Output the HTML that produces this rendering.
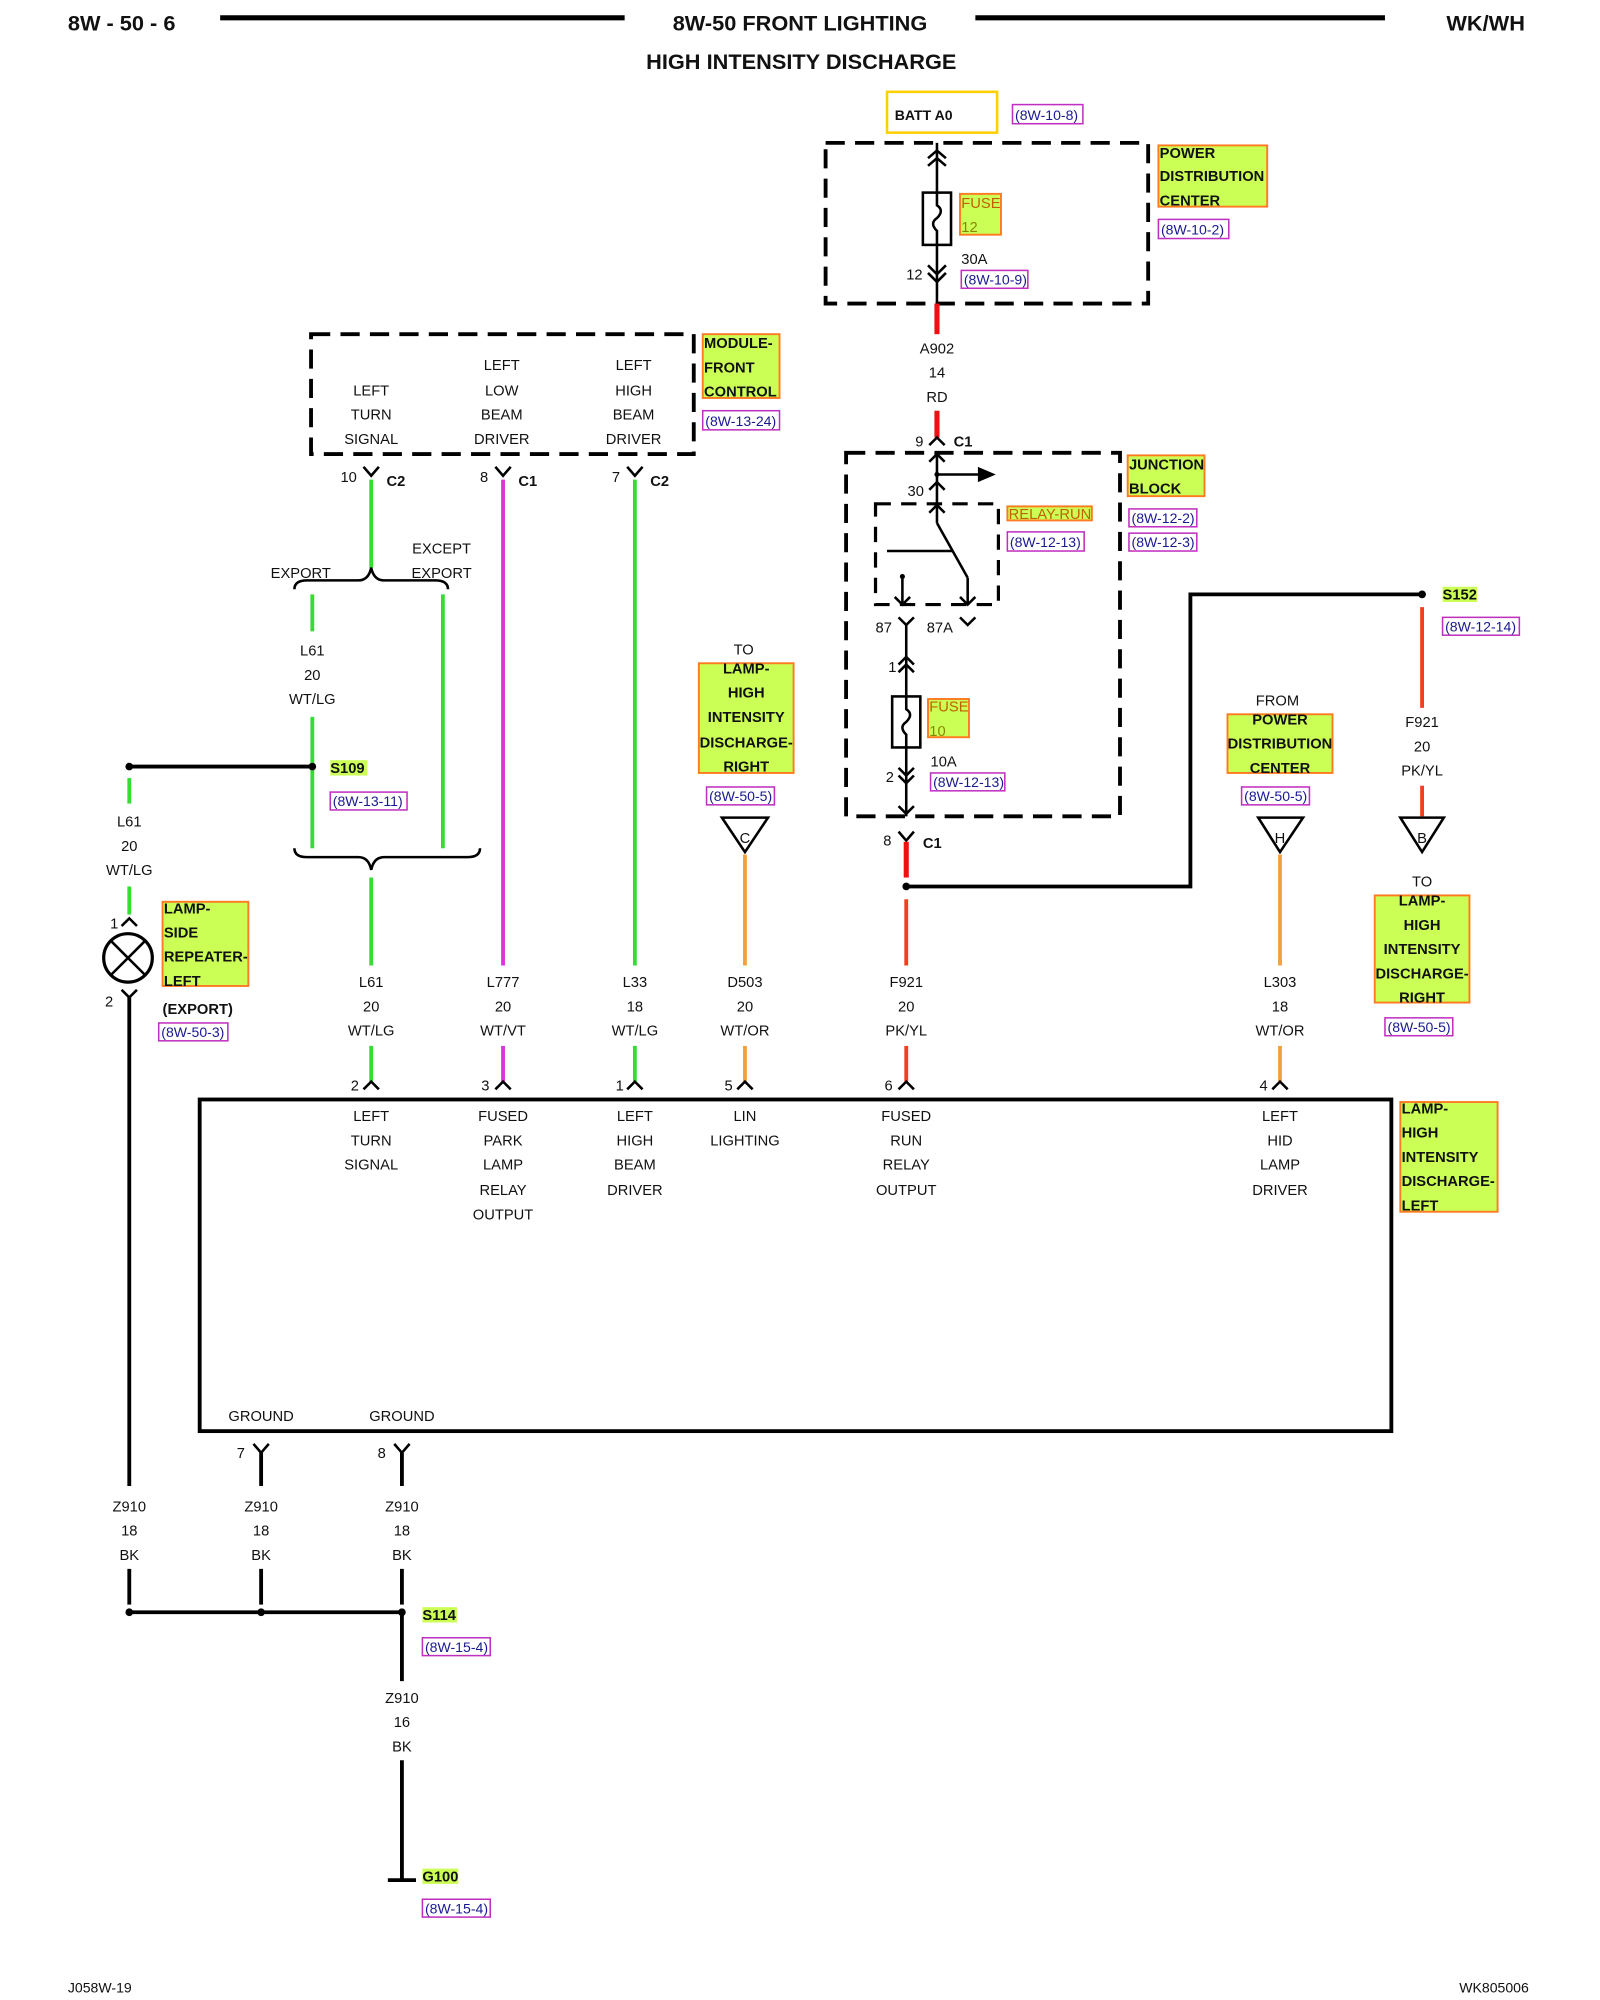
<!DOCTYPE html>
<html><head><meta charset="utf-8"><style>
html,body{margin:0;padding:0;background:#fff;}
svg{display:block;}
text{font-family:"Liberation Sans",sans-serif;font-size:11.5px;fill:#111;}
.b{font-weight:bold;}
.c{text-anchor:middle;}
.ref{fill:none;stroke:#c030c0;stroke-width:1.2;}
.reft{fill:#1a1a90;font-size:11px;}
.lab{fill:#ccff55;stroke:#ff7a20;stroke-width:1.5;}
.labt{font-weight:bold;font-size:11.5px;}
.k{stroke:#000;fill:none;stroke-width:3;}
.k2{stroke:#000;fill:none;stroke-width:2;}
.d{stroke:#000;fill:none;stroke-width:3;stroke-dasharray:15 8;}
.g{stroke:#33dd33;stroke-width:3;}
.m{stroke:#dd33dd;stroke-width:3;}
.r{stroke:#ee1111;stroke-width:4;}
.o{stroke:#f2a040;stroke-width:3;}
</style></head><body>
<svg width="1600" height="2000" viewBox="0 0 1250 1568" preserveAspectRatio="none" xmlns="http://www.w3.org/2000/svg">
<!-- header -->
<text x="53" y="24" class="b" style="font-size:17px">8W - 50 - 6</text>
<line x1="172" y1="14" x2="488" y2="14" stroke="#000" stroke-width="4"/>
<text x="625" y="24" class="b c" style="font-size:17px">8W-50 FRONT LIGHTING</text>
<line x1="762" y1="14" x2="1082" y2="14" stroke="#000" stroke-width="4"/>
<text x="1130" y="24" class="b" style="font-size:17px">WK/WH</text>
<text x="626" y="54" class="b c" style="font-size:17px">HIGH INTENSITY DISCHARGE</text>

<!-- BATT -->
<rect x="693" y="72" width="86" height="32" fill="none" stroke="#ffd000" stroke-width="2"/>
<text x="699" y="94" class="b" style="font-size:11px">BATT A0</text>
<rect class="ref" x="791" y="82" width="55" height="15"/><text class="reft" x="793" y="94">(8W-10-8)</text>

<!-- PDC -->
<rect class="d" x="645" y="112" width="252" height="126"/>
<line class="k2" x1="732" y1="112" x2="732" y2="238"/>
<polyline class="k2" points="725,124 732,118 739,124"/><polyline class="k2" points="725,130 732,124 739,130"/>
<rect x="721" y="151" width="22" height="41" fill="#fff" stroke="#000" stroke-width="2"/>
<path d="M732 151 v10 q6 4 0 10 q-6 4 0 10 v11" class="k2"/>
<polyline class="k2" points="725,208 732,215 739,208"/><polyline class="k2" points="725,214 732,221 739,214"/>
<rect class="lab" x="750" y="152" width="32" height="32"/><text x="751" y="163" style="fill:#c06000">FUSE</text><text x="751" y="182" style="fill:#888800">12</text>
<text x="708" y="219">12</text><text x="751" y="207">30A</text>
<rect class="ref" x="751" y="212" width="52" height="14"/><text class="reft" x="753" y="223">(8W-10-9)</text>
<rect class="lab" x="905" y="114" width="85" height="48"/>
<text class="labt" x="906" y="124">POWER</text><text class="labt" x="906" y="142">DISTRIBUTION</text><text class="labt" x="906" y="161">CENTER</text>
<rect class="ref" x="905" y="172" width="55" height="15"/><text class="reft" x="907" y="184">(8W-10-2)</text>

<line class="r" x1="732" y1="238" x2="732" y2="262"/>
<text x="732" y="277" class="c">A902</text><text x="732" y="296" class="c">14</text><text x="732" y="315" class="c">RD</text>
<line class="r" x1="732" y1="322" x2="732" y2="343"/>
<polyline class="k2" points="726,349 732,343 738,349"/><text x="715" y="350">9</text><text x="745" y="350" class="b">C1</text>

<!-- Junction block -->
<rect class="d" x="661" y="355" width="214" height="285"/>
<line class="k2" x1="732" y1="355" x2="732" y2="395"/>
<polyline class="k2" points="726,362 732,356 738,362"/>
<line class="k2" x1="732" y1="372" x2="765" y2="372"/><polygon points="764,366 778,372 764,378" fill="#000"/>
<circle cx="732" cy="372" r="2" fill="#000"/>
<polyline class="k2" points="726,384 732,378 738,384"/><text x="709" y="389">30</text>
<rect class="d" x="684" y="395" width="96" height="79" style="stroke-width:2.5;stroke-dasharray:12 8"/>
<polyline class="k2" points="726,402 732,396 738,402"/>
<line class="k2" x1="732" y1="396" x2="732" y2="410"/><line class="k2" x1="732" y1="410" x2="756" y2="453"/>
<line class="k2" x1="693" y1="432" x2="744" y2="432"/>
<line class="k2" x1="756" y1="453" x2="756" y2="474"/><polyline class="k2" points="750,468 756,474 762,468"/>
<line class="k2" x1="705" y1="452" x2="705" y2="474"/><polyline class="k2" points="699,468 705,474 711,468"/><circle cx="705" cy="452" r="2" fill="#000"/>
<polyline class="k2" points="702,484 708,490 714,484"/><text x="684" y="496">87</text><text x="724" y="496">87A</text>
<polyline class="k2" points="750,484 756,490 762,484"/>
<line class="k2" x1="708" y1="490" x2="708" y2="640"/>
<polyline class="k2" points="702,521 708,515 714,521"/><polyline class="k2" points="702,527 708,521 714,527"/><text x="694" y="527">1</text>
<rect x="697" y="546" width="22" height="40" fill="#fff" stroke="#000" stroke-width="2"/>
<path d="M708 546 v10 q6 4 0 10 q-6 4 0 10 v10" class="k2"/>
<rect class="lab" x="725" y="548" width="32" height="30"/><text x="726" y="558" style="fill:#c06000">FUSE</text><text x="726" y="577" style="fill:#888800">10</text>
<text x="727" y="601">10A</text>
<rect class="ref" x="727" y="606" width="58" height="14"/><text class="reft" x="729" y="617">(8W-12-13)</text>
<polyline class="k2" points="702,602 708,608 714,602"/><polyline class="k2" points="702,608 708,614 714,608"/><text x="692" y="613">2</text>
<polyline class="k2" points="702,632 708,638 714,632"/>
<rect class="lab" x="881" y="357" width="60" height="32"/><text class="labt" x="882" y="368">JUNCTION</text><text class="labt" x="882" y="387">BLOCK</text>
<rect class="ref" x="882" y="399" width="53" height="14"/><text class="reft" x="884" y="410">(8W-12-2)</text>
<rect class="ref" x="882" y="418" width="53" height="14"/><text class="reft" x="884" y="429">(8W-12-3)</text>
<rect class="lab" x="787" y="397" width="66" height="11"/><text x="788" y="407" style="fill:#c06000">RELAY-RUN</text>
<rect class="ref" x="787" y="417" width="60" height="15"/><text class="reft" x="789" y="429">(8W-12-13)</text>

<polyline class="k2" points="702,652 708,659 714,652"/><text x="690" y="663">8</text><text x="721" y="665" class="b">C1</text>
<line class="r" x1="708" y1="660" x2="708" y2="688"/>
<circle cx="708" cy="695" r="3" fill="#000"/>
<polyline class="k" points="708,695 930,695 930,466 1111,466"/>
<circle cx="1111" cy="466" r="3" fill="#000"/>
<rect x="1127" y="460" width="27" height="12" fill="#ccff55"/><text x="1127" y="470" class="b">S152</text>
<rect class="ref" x="1127" y="484" width="60" height="14"/><text class="reft" x="1129" y="495">(8W-12-14)</text>
<line class="r" x1="1111" y1="476" x2="1111" y2="555" style="stroke:#f04020;stroke-width:3"/>
<text x="1111" y="570" class="c">F921</text><text x="1111" y="589" class="c">20</text><text x="1111" y="608" class="c">PK/YL</text>
<line class="r" x1="1111" y1="616" x2="1111" y2="640" style="stroke:#f04020;stroke-width:3"/>
<polygon points="1094,641 1128,641 1111,668" fill="#fff" stroke="#000" stroke-width="2"/><text x="1111" y="661" class="c">B</text>
<text x="1111" y="695" class="c">TO</text>
<rect class="lab" x="1074" y="702" width="74" height="84"/>
<text class="labt c" x="1111" y="710">LAMP-</text><text class="labt c" x="1111" y="729">HIGH</text><text class="labt c" x="1111" y="748">INTENSITY</text><text class="labt c" x="1111" y="767">DISCHARGE-</text><text class="labt c" x="1111" y="786">RIGHT</text>
<rect class="ref" x="1082" y="798" width="53" height="14"/><text class="reft" x="1084" y="809">(8W-50-5)</text>

<!-- Module front control -->
<rect class="d" x="243" y="262" width="299" height="94"/>
<text x="290" y="310" class="c">LEFT</text><text x="290" y="329" class="c">TURN</text><text x="290" y="348" class="c">SIGNAL</text>
<text x="392" y="290" class="c">LEFT</text><text x="392" y="310" class="c">LOW</text><text x="392" y="329" class="c">BEAM</text><text x="392" y="348" class="c">DRIVER</text>
<text x="495" y="290" class="c">LEFT</text><text x="495" y="310" class="c">HIGH</text><text x="495" y="329" class="c">BEAM</text><text x="495" y="348" class="c">DRIVER</text>
<rect class="lab" x="549" y="262" width="60" height="50"/><text class="labt" x="550" y="273">MODULE-</text><text class="labt" x="550" y="292">FRONT</text><text class="labt" x="550" y="311">CONTROL</text>
<rect class="ref" x="549" y="322" width="60" height="15"/><text class="reft" x="551" y="334">(8W-13-24)</text>

<polyline class="k2" points="284,366 290,373 296,366"/><text x="266" y="378">10</text><text x="302" y="381" class="b">C2</text>
<polyline class="k2" points="387,366 393,373 399,366"/><text x="375" y="378">8</text><text x="405" y="381" class="b">C1</text>
<polyline class="k2" points="490,366 496,373 502,366"/><text x="478" y="378">7</text><text x="508" y="381" class="b">C2</text>
<line class="g" x1="290" y1="376" x2="290" y2="445"/>
<path d="M230 462 q0 -7 10 -7 h40 q8 0 10 -10 q2 10 10 10 h40 q10 0 10 7" class="k2"/>
<text x="235" y="453" class="c">EXPORT</text><text x="345" y="434" class="c">EXCEPT</text><text x="345" y="453" class="c">EXPORT</text>
<line class="g" x1="244" y1="466" x2="244" y2="495"/>
<text x="244" y="514" class="c">L61</text><text x="244" y="533" class="c">20</text><text x="244" y="552" class="c">WT/LG</text>
<line class="g" x1="244" y1="562" x2="244" y2="665"/>
<line class="g" x1="346" y1="466" x2="346" y2="665"/>
<circle cx="244" cy="601" r="3" fill="#000"/>
<line class="k" x1="101" y1="601" x2="244" y2="601"/><circle cx="101" cy="601" r="3" fill="#000"/>
<rect x="258" y="596" width="29" height="12" fill="#ccff55"/><text x="258" y="606" class="b">S109</text>
<rect class="ref" x="258" y="621" width="60" height="14"/><text class="reft" x="260" y="632">(8W-13-11)</text>
<path d="M230 665 q0 7 10 7 h40 q8 0 10 10 q2 -10 10 -10 h65 q10 0 10 -7" class="k2"/>
<line class="g" x1="290" y1="688" x2="290" y2="757"/>
<line class="m" x1="393" y1="376" x2="393" y2="757"/>
<line class="g" x1="496" y1="376" x2="496" y2="757"/>

<text x="581" y="513" class="c">TO</text>
<rect class="lab" x="546" y="520" width="74" height="86"/>
<text class="labt c" x="583" y="528">LAMP-</text><text class="labt c" x="583" y="547">HIGH</text><text class="labt c" x="583" y="566">INTENSITY</text><text class="labt c" x="583" y="586">DISCHARGE-</text><text class="labt c" x="583" y="605">RIGHT</text>
<rect class="ref" x="552" y="617" width="53" height="14"/><text class="reft" x="554" y="628">(8W-50-5)</text>
<polygon points="564,641 600,641 582,668" fill="#fff" stroke="#000" stroke-width="2"/><text x="582" y="661" class="c">C</text>
<line class="o" x1="582" y1="670" x2="582" y2="757"/>
<line class="r" x1="708" y1="705" x2="708" y2="757" style="stroke:#f04020;stroke-width:3"/>

<text x="998" y="553" class="c">FROM</text>
<rect class="lab" x="959" y="560" width="82" height="46"/>
<text class="labt c" x="1000" y="568">POWER</text><text class="labt c" x="1000" y="587">DISTRIBUTION</text><text class="labt c" x="1000" y="606">CENTER</text>
<rect class="ref" x="970" y="617" width="53" height="14"/><text class="reft" x="972" y="628">(8W-50-5)</text>
<polygon points="983,641 1018,641 1000,668" fill="#fff" stroke="#000" stroke-width="2"/><text x="1000" y="661" class="c">H</text>
<line class="o" x1="1000" y1="670" x2="1000" y2="757"/>

<!-- wire labels row -->
<g>
<text x="290" y="774" class="c">L61</text><text x="290" y="793" class="c">20</text><text x="290" y="812" class="c">WT/LG</text>
<text x="393" y="774" class="c">L777</text><text x="393" y="793" class="c">20</text><text x="393" y="812" class="c">WT/VT</text>
<text x="496" y="774" class="c">L33</text><text x="496" y="793" class="c">18</text><text x="496" y="812" class="c">WT/LG</text>
<text x="582" y="774" class="c">D503</text><text x="582" y="793" class="c">20</text><text x="582" y="812" class="c">WT/OR</text>
<text x="708" y="774" class="c">F921</text><text x="708" y="793" class="c">20</text><text x="708" y="812" class="c">PK/YL</text>
<text x="1000" y="774" class="c">L303</text><text x="1000" y="793" class="c">18</text><text x="1000" y="812" class="c">WT/OR</text>
</g>
<line class="g" x1="290" y1="820" x2="290" y2="848"/>
<line class="m" x1="393" y1="820" x2="393" y2="848"/>
<line class="g" x1="496" y1="820" x2="496" y2="848"/>
<line class="o" x1="582" y1="820" x2="582" y2="848"/>
<line class="r" x1="708" y1="820" x2="708" y2="848" style="stroke:#f04020;stroke-width:3"/>
<line class="o" x1="1000" y1="820" x2="1000" y2="848"/>
<polyline class="k2" points="284,854 290,848 296,854"/><text x="274" y="855">2</text>
<polyline class="k2" points="387,854 393,848 399,854"/><text x="376" y="855">3</text>
<polyline class="k2" points="490,854 496,848 502,854"/><text x="481" y="855">1</text>
<polyline class="k2" points="576,854 582,848 588,854"/><text x="566" y="855">5</text>
<polyline class="k2" points="702,854 708,848 714,854"/><text x="691" y="855">6</text>
<polyline class="k2" points="994,854 1000,848 1006,854"/><text x="984" y="855">4</text>

<!-- left lamp -->
<line class="g" x1="101" y1="610" x2="101" y2="630"/>
<text x="101" y="648" class="c">L61</text><text x="101" y="667" class="c">20</text><text x="101" y="686" class="c">WT/LG</text>
<line class="g" x1="101" y1="695" x2="101" y2="717"/>
<polyline class="k2" points="95,726 101,720 107,726"/><text x="86" y="728">1</text>
<circle cx="100" cy="751" r="19" fill="#fff" stroke="#000" stroke-width="2.5"/>
<line class="k2" x1="87" y1="738" x2="113" y2="764"/><line class="k2" x1="113" y1="738" x2="87" y2="764"/>
<polyline class="k2" points="95,776 101,782 107,776"/><text x="82" y="789">2</text>
<line class="k" x1="101" y1="782" x2="101" y2="1165"/>
<rect class="lab" x="127" y="707" width="67" height="66"/>
<text class="labt" x="128" y="716">LAMP-</text><text class="labt" x="128" y="735">SIDE</text><text class="labt" x="128" y="754">REPEATER-</text><text class="labt" x="128" y="773">LEFT</text>
<text x="127" y="795" class="b">(EXPORT)</text>
<rect class="ref" x="124" y="802" width="54" height="14"/><text class="reft" x="126" y="813">(8W-50-3)</text>

<!-- big box -->
<rect x="156" y="862" width="931" height="260" fill="none" stroke="#000" stroke-width="3"/>
<text x="290" y="879" class="c">LEFT</text><text x="290" y="898" class="c">TURN</text><text x="290" y="917" class="c">SIGNAL</text>
<text x="393" y="879" class="c">FUSED</text><text x="393" y="898" class="c">PARK</text><text x="393" y="917" class="c">LAMP</text><text x="393" y="937" class="c">RELAY</text><text x="393" y="956" class="c">OUTPUT</text>
<text x="496" y="879" class="c">LEFT</text><text x="496" y="898" class="c">HIGH</text><text x="496" y="917" class="c">BEAM</text><text x="496" y="937" class="c">DRIVER</text>
<text x="582" y="879" class="c">LIN</text><text x="582" y="898" class="c">LIGHTING</text>
<text x="708" y="879" class="c">FUSED</text><text x="708" y="898" class="c">RUN</text><text x="708" y="917" class="c">RELAY</text><text x="708" y="937" class="c">OUTPUT</text>
<text x="1000" y="879" class="c">LEFT</text><text x="1000" y="898" class="c">HID</text><text x="1000" y="917" class="c">LAMP</text><text x="1000" y="937" class="c">DRIVER</text>
<text x="204" y="1114" class="c">GROUND</text><text x="314" y="1114" class="c">GROUND</text>
<rect class="lab" x="1094" y="864" width="76" height="86"/>
<text class="labt" x="1095" y="873">LAMP-</text><text class="labt" x="1095" y="892">HIGH</text><text class="labt" x="1095" y="911">INTENSITY</text><text class="labt" x="1095" y="930">DISCHARGE-</text><text class="labt" x="1095" y="949">LEFT</text>

<!-- grounds -->
<polyline class="k2" points="198,1132 204,1139 210,1132"/><text x="185" y="1143">7</text>
<polyline class="k2" points="308,1132 314,1139 320,1132"/><text x="295" y="1143">8</text>
<line class="k" x1="204" y1="1139" x2="204" y2="1165"/><line class="k" x1="314" y1="1139" x2="314" y2="1165"/>
<text x="101" y="1185" class="c">Z910</text><text x="101" y="1204" class="c">18</text><text x="101" y="1223" class="c">BK</text>
<text x="204" y="1185" class="c">Z910</text><text x="204" y="1204" class="c">18</text><text x="204" y="1223" class="c">BK</text>
<text x="314" y="1185" class="c">Z910</text><text x="314" y="1204" class="c">18</text><text x="314" y="1223" class="c">BK</text>
<line class="k" x1="101" y1="1230" x2="101" y2="1258"/><line class="k" x1="204" y1="1230" x2="204" y2="1258"/><line class="k" x1="314" y1="1230" x2="314" y2="1258"/>
<line class="k" x1="101" y1="1264" x2="314" y2="1264"/>
<circle cx="101" cy="1264" r="3" fill="#000"/><circle cx="204" cy="1264" r="3" fill="#000"/><circle cx="314" cy="1264" r="3" fill="#000"/>
<line class="k" x1="314" y1="1264" x2="314" y2="1318"/>
<rect x="330" y="1260" width="27" height="12" fill="#ccff55"/><text x="330" y="1270" class="b">S114</text>
<rect class="ref" x="330" y="1284" width="53" height="14"/><text class="reft" x="332" y="1295">(8W-15-4)</text>
<text x="314" y="1335" class="c">Z910</text><text x="314" y="1354" class="c">16</text><text x="314" y="1373" class="c">BK</text>
<line class="k" x1="314" y1="1380" x2="314" y2="1474"/>
<line class="k" x1="303" y1="1474" x2="325" y2="1474"/>
<rect x="330" y="1465" width="28" height="12" fill="#ccff55"/><text x="330" y="1475" class="b">G100</text>
<rect class="ref" x="330" y="1489" width="53" height="14"/><text class="reft" x="332" y="1500">(8W-15-4)</text>

<text x="53" y="1562" style="font-size:11px">J058W-19</text>
<text x="1140" y="1562" style="font-size:11px">WK805006</text>
</svg>
</body></html>
